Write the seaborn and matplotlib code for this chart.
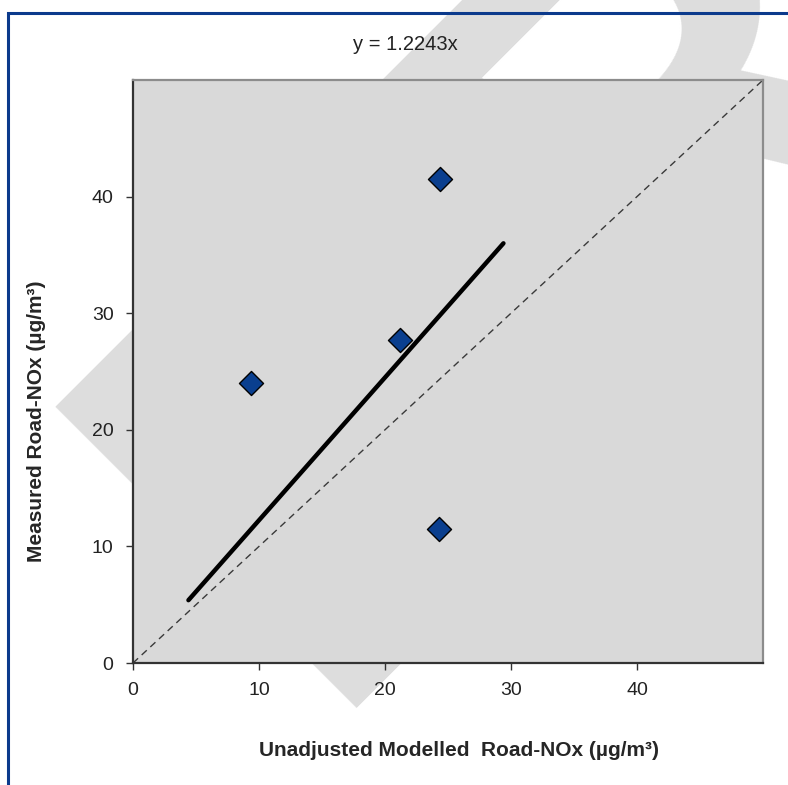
import numpy as np
import pandas as pd
import matplotlib
matplotlib.use("Agg")
import matplotlib.pyplot as plt
import seaborn as sns
from matplotlib.patches import Rectangle

# --- data ---
modelled = [9.4, 21.2, 24.4, 24.3]      # unadjusted modelled road-NOx
measured = [24.0, 27.7, 41.5, 11.5]     # measured road-NOx
slope = 1.2243                          # trendline through origin
axis_max = 50
x_ticks = [0, 10, 20, 30, 40]
y_ticks = [0, 10, 20, 30, 40]

sns.set_style("white")
plt.rcParams["font.family"] = ["Liberation Sans", "DejaVu Sans"]

df = pd.DataFrame({"modelled": modelled, "measured": measured})

# Excel-style trendline: forecast 5 units either side of the data
fit_x = [min(modelled) - 5, max(modelled) + 5]
trend = pd.DataFrame({"x": fit_x, "y": [slope * v for v in fit_x]})

fig = plt.figure(figsize=(7.88, 7.85), dpi=100, facecolor="white")

# watermark behind everything
fig.text(0.400, 0.098, "DRAFT", fontsize=445, fontweight="bold", color="#DDDDDD",
         rotation=45, rotation_mode="anchor", ha="left", va="baseline", zorder=-5)

# blue frame around the whole chart
fig.patches.append(Rectangle((8 / 788, -0.1), 1.2, (785 - 13) / 785 + 0.1,
                             transform=fig.transFigure, fill=False,
                             edgecolor="#0B3A8C", linewidth=2.2, zorder=-4))

ax = fig.add_axes([133 / 788, (785 - 663) / 785, 630 / 788, 583 / 785])
ax.set_facecolor("#D9D9D9")

# 1:1 line
ax.plot([0, axis_max], [0, axis_max], linestyle=(0, (5, 3.5)), color="#3A3A3A",
        linewidth=1.0, zorder=2)

sns.lineplot(data=trend, x="x", y="y", ax=ax, color="black", linewidth=3.2,
             solid_capstyle="round", zorder=3)
sns.scatterplot(data=df, x="modelled", y="measured", ax=ax, marker="D", s=150,
                color="#0A3F8F", edgecolor="black", linewidth=1.0, zorder=4)

ax.set_xlim(0, axis_max)
ax.set_ylim(0, axis_max)
ax.set_xticks(x_ticks)
ax.set_yticks(y_ticks)
ax.tick_params(axis="both", direction="out", length=5, width=1, color="#333333",
               labelsize=14, labelcolor="#222222", bottom=True, left=True)
ax.tick_params(axis="x", pad=9)
ax.tick_params(axis="y", pad=9)

for side in ["left", "bottom"]:
    ax.spines[side].set_color("#333333")
    ax.spines[side].set_linewidth(1.6)
for side in ["top", "right"]:
    ax.spines[side].set_color("#8C8C8C")
    ax.spines[side].set_linewidth(1.6)

ax.set_xlabel("")
ax.set_ylabel("")

fig.text(459 / 788, 1 - 750 / 785, "Unadjusted Modelled  Road-NOx (\u00b5g/m\u00b3)",
         ha="center", va="center", fontsize=15, fontweight="bold")
fig.text(37 / 788, 1 - 421 / 785, "Measured Road-NOx (\u00b5g/m\u00b3)",
         ha="center", va="center", rotation=90, fontsize=15, fontweight="bold")
fig.text(405 / 788, 1 - 44 / 785, f"y = {slope}x", ha="center", va="center",
         fontsize=14.5, color="#222222")

fig.savefig("out.png", dpi=100, facecolor="white")
